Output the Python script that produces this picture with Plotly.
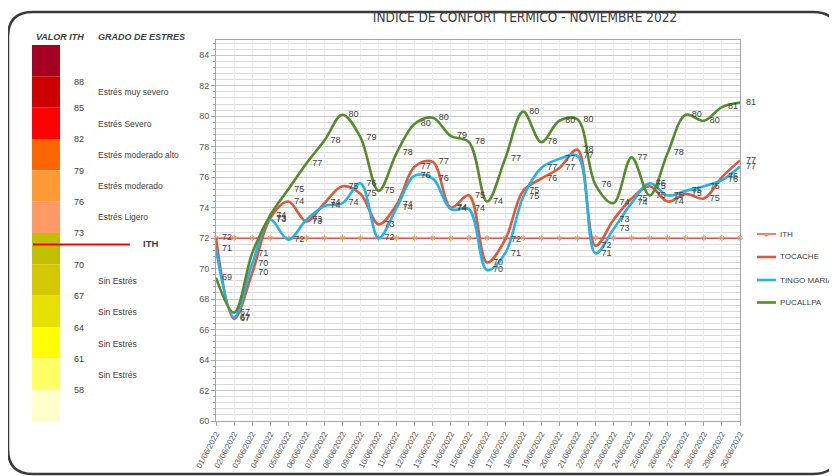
import plotly.graph_objects as go

# ---------------- data ----------------
dates = ["01/06/2022", "02/06/2022", "03/06/2022", "04/06/2022", "05/06/2022",
         "06/06/2022", "07/06/2022", "08/06/2022", "09/06/2022", "10/06/2022",
         "11/06/2022", "12/06/2022", "13/06/2022", "14/06/2022", "15/06/2022",
         "16/06/2022", "17/06/2022", "18/06/2022", "19/06/2022", "20/06/2022",
         "21/06/2022", "22/06/2022", "23/06/2022", "24/06/2022", "25/06/2022",
         "26/06/2022", "27/06/2022", "28/06/2022", "29/06/2022", "30/06/2022"]

ith = [72, 72, 72, 72, 72, 72, 72, 72, 72, 72,
       72, 72, 72, 72, 72, 72, 72, 72, 72, 72,
       72, 72, 72, 72, 72, 72, 72, 72, 72, 72]

tocache = [72.0, 66.7, 69.7, 73.3, 74.4, 73.1, 74.3, 75.4, 74.9, 72.9,
           74.2, 76.7, 77.0, 74.0, 74.8, 70.4, 71.9, 75.1, 75.9, 76.6,
           77.8, 71.5, 73.2, 74.6, 75.4, 74.4, 74.9, 74.6, 76.0, 77.1]

tingo_maria = [71.3, 66.8, 70.3, 73.2, 71.9, 73.2, 74.1, 74.3, 75.6, 72.0,
               74.0, 76.1, 75.9, 73.9, 73.9, 69.9, 71.0, 74.7, 76.6, 77.2,
               77.4, 71.0, 72.6, 74.3, 75.6, 74.8, 75.1, 75.4, 75.8, 76.7]

pucallpa = [69.4, 67.1, 71.0, 73.5, 75.2, 76.9, 78.4, 80.1, 78.6, 75.1,
            77.6, 79.5, 79.9, 78.7, 78.3, 74.4, 77.2, 80.3, 78.3, 79.7,
            79.8, 75.5, 74.3, 77.3, 74.8, 77.6, 80.1, 79.7, 80.6, 80.9]

# left-hand stress scale
scale_colors = ["#A50021", "#CC0000", "#FF0000", "#FF6600", "#FF9933", "#FF9966",
                "#C2BE00", "#D4C800", "#E6E000", "#FFFF00", "#FFFF66", "#FFFFCC"]
scale_values = ["88", "85", "82", "79", "76", "73", "70", "67", "64", "61", "58"]
stress_upper = ["Estrés muy severo", "Estrés Severo", "Estrés moderado alto",
                "Estrés moderado", "Estrés Ligero"]
stress_lower = ["Sin Estrés", "Sin Estrés", "Sin Estrés", "Sin Estrés"]

# ---------------- layout helpers (screen pixel -> paper) ----------------
OFF = 8                       # page body margin: figure origin sits at (8, 8) on screen
W, H = 837 - OFF, 476 - OFF   # keep the figure inside the window (no scrollbars)
X0, X1 = 216 - OFF, 740 - OFF
Y0, Y1 = 40 - OFF, 421 - OFF


def fx(p):
    """screen x pixel -> paper x"""
    return (p - OFF - X0) / (X1 - X0)


def fy(p):
    """screen y pixel -> paper y"""
    return (Y1 - (p - OFF)) / (Y1 - Y0)


FONT = "Liberation Sans"
NARROW = "Liberation Sans Narrow, DejaVu Sans Condensed, Liberation Sans"
TXT = "#404040"
ITH_RED = "#FF2A2A"
ITH_MARK = "#D9A06A"

fig = go.Figure()

series = [
    ("TOCACHE", tocache, "#E0573A"),
    ("TINGO MARIA", tingo_maria, "#1EB4EC"),
    ("PUCALLPA", pucallpa, "#548B2B"),
]

fig.add_trace(go.Scatter(
    x=dates, y=ith, name="ITH", mode="lines+markers",
    line=dict(color=ITH_RED, width=1.3),
    marker=dict(symbol="asterisk-open", size=5, color=ITH_MARK,
                line=dict(color=ITH_MARK, width=1)),
    cliponaxis=False,
))

for name, vals, col in series:
    fig.add_trace(go.Scatter(
        x=dates, y=vals, name=name, mode="lines",
        line=dict(color=col, width=2.6, shape="spline", smoothing=1.0),
    ))

for name, vals, col in series:
    fig.add_trace(go.Scatter(
        x=dates, y=vals, mode="markers+text", showlegend=False, hoverinfo="skip",
        marker=dict(size=8, color="rgba(0,0,0,0)"),
        text=[f"{v:.0f}" for v in vals], textposition="middle right",
        textfont=dict(family=FONT, size=9, color=TXT),
        cliponaxis=False,
    ))

shapes = []
annotations = []

# colour boxes
box_top, box_bot = 45, 421
bh = (box_bot - box_top) / len(scale_colors)
for i, c in enumerate(scale_colors):
    shapes.append(dict(type="rect", xref="paper", yref="paper",
                       x0=fx(32), x1=fx(60), y0=fy(box_top + i * bh), y1=fy(box_top + (i + 1) * bh),
                       fillcolor=c, line=dict(width=0), layer="above"))

val_y = [82, 108, 139, 171, 202, 233, 264.5, 296, 327.5, 359, 390]
for v, yy in zip(scale_values, val_y):
    annotations.append(dict(text=v, xref="paper", yref="paper", x=fx(72), y=fy(yy),
                            xanchor="left", yanchor="middle", showarrow=False,
                            font=dict(family=FONT, size=9, color=TXT)))

up_y = [92, 123.5, 155, 186, 217]
for s, yy in zip(stress_upper, up_y):
    annotations.append(dict(text=s, xref="paper", yref="paper", x=fx(96), y=fy(yy),
                            xanchor="left", yanchor="middle", showarrow=False,
                            font=dict(family=FONT, size=8.5, color=TXT)))
low_y = [281, 312, 343.5, 374.5]
for s, yy in zip(stress_lower, low_y):
    annotations.append(dict(text=s, xref="paper", yref="paper", x=fx(96), y=fy(yy),
                            xanchor="left", yanchor="middle", showarrow=False,
                            font=dict(family=FONT, size=8.5, color=TXT)))

annotations.append(dict(text="<b><i>VALOR ITH</i></b>", xref="paper", yref="paper",
                        x=fx(34), y=fy(37), xanchor="left", yanchor="middle", showarrow=False,
                        font=dict(family=FONT, size=9, color=TXT)))
annotations.append(dict(text="<b><i>GRADO DE ESTRES</i></b>", xref="paper", yref="paper",
                        x=fx(96), y=fy(37), xanchor="left", yanchor="middle", showarrow=False,
                        font=dict(family=FONT, size=9, color=TXT)))
annotations.append(dict(text="<b>ITH</b>", xref="paper", yref="paper",
                        x=fx(141), y=fy(244), xanchor="left", yanchor="middle", showarrow=False,
                        font=dict(family=FONT, size=9.5, color=TXT)))
shapes.append(dict(type="line", xref="paper", yref="paper", x0=fx(33), x1=fx(130),
                   y0=fy(244.5), y1=fy(244.5), line=dict(color="#FF0000", width=2), layer="above"))

# legend (drawn as keys + labels to match the original's compact layout)
legend_items = [("ITH", ITH_RED, 1.3), ("TOCACHE", series[0][2], 2.6),
                ("TINGO MARIA", series[1][2], 2.6), ("PUCALLPA", series[2][2], 2.6)]
leg_y = [234, 257, 280, 302.5]
for (lab, col, lw), yy in zip(legend_items, leg_y):
    shapes.append(dict(type="line", xref="paper", yref="paper", x0=fx(757), x1=fx(776),
                       y0=fy(yy), y1=fy(yy), line=dict(color=col, width=lw)))
    annotations.append(dict(text=lab, xref="paper", yref="paper", x=fx(778), y=fy(yy),
                            xanchor="left", yanchor="middle", showarrow=False,
                            font=dict(family=FONT, size=8, color=TXT)))
annotations.append(dict(text="✱", xref="paper", yref="paper", x=fx(766.5), y=fy(234),
                        xanchor="center", yanchor="middle", showarrow=False,
                        font=dict(family="DejaVu Sans", size=6, color=ITH_MARK)))

# rounded outer frame (screen pixels)
L, R, T, B, r = 8, 838, 12, 474, 25
path = (f"M {fx(L + r)} {fy(T)} L {fx(R - r)} {fy(T)} "
        f"Q {fx(R)} {fy(T)} {fx(R)} {fy(T + r)} L {fx(R)} {fy(B - r)} "
        f"Q {fx(R)} {fy(B)} {fx(R - r)} {fy(B)} L {fx(L + r)} {fy(B)} "
        f"Q {fx(L)} {fy(B)} {fx(L)} {fy(B - r)} L {fx(L)} {fy(T + r)} "
        f"Q {fx(L)} {fy(T)} {fx(L + r)} {fy(T)} Z")
shapes.append(dict(type="path", xref="paper", yref="paper", path=path,
                   line=dict(color="#3A3A3A", width=2.5), layer="above"))

fig.update_layout(
    width=W, height=H, autosize=False,
    margin=dict(l=X0, r=W - X1, t=Y0, b=H - Y1, autoexpand=False),
    paper_bgcolor="white", plot_bgcolor="white",
    font=dict(family=FONT, size=9, color="#595959"),
    title=dict(text="INDICE DE CONFORT TERMICO - NOVIEMBRE 2022",
               x=(525 - OFF) / W, xanchor="center", y=1 - (17 - OFF) / H, yanchor="middle",
               font=dict(family=NARROW, size=13.5, color="#404040")),
    showlegend=False,
    shapes=shapes, annotations=annotations,
    xaxis=dict(type="category", range=[0, 29], tickangle=-62,
               showgrid=True, gridcolor="#EDEDED", gridwidth=1,
               showline=True, linecolor="#A6A6A6", mirror=True,
               ticks="outside", ticklen=4, tickcolor="#A6A6A6",
               tickfont=dict(family=FONT, size=8, color="#595959")),
    yaxis=dict(range=[60, 85], tick0=60, dtick=2,
               showgrid=True, gridcolor="#C8C8C8", gridwidth=1,
               showline=True, linecolor="#A6A6A6", mirror=True,
               ticks="outside", ticklen=4, tickcolor="#A6A6A6",
               tickfont=dict(family=FONT, size=9, color="#595959"),
               zeroline=False,
               minor=dict(tick0=60, dtick=0.4, showgrid=True, gridcolor="#DADADA",
                          ticks="outside", ticklen=2, tickcolor="#A6A6A6")),
)

fig.write_html("out.html")
